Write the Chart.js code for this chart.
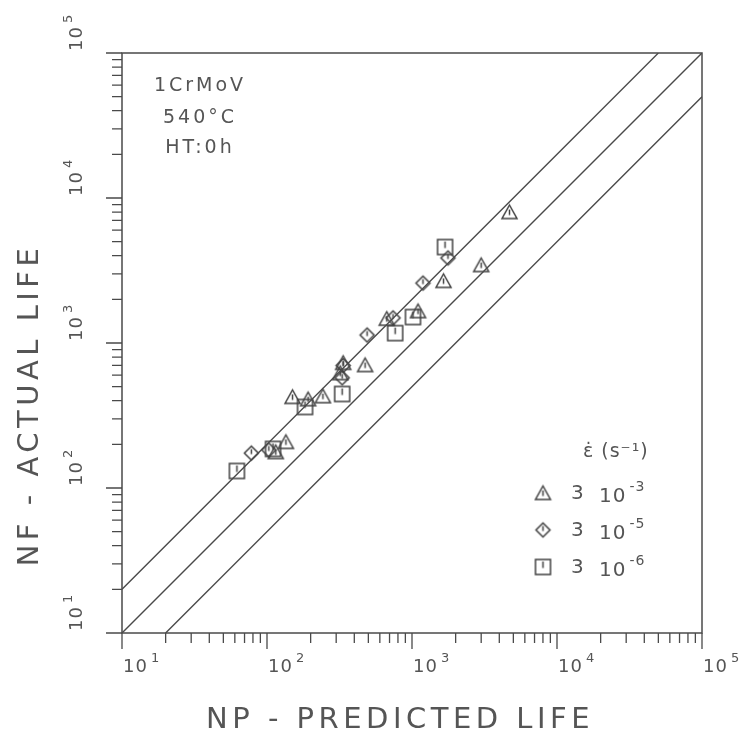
<!DOCTYPE html>
<html>
<head>
<meta charset="utf-8">
<script src="https://cdn.jsdelivr.net/npm/chart.js@4.4.0/dist/chart.umd.min.js"></script>
<style>
  html, body { margin: 0; padding: 0; background: #fff; }
  #wrap { width: 750px; height: 744px; }
</style>
</head>
<body>
<div id="wrap"><canvas id="lifeChart" width="750" height="744"></canvas></div>
<script>
// predicted life (NP) and actual life (NF), per strain rate
const rateLabels = ['3 10-3', '3 10-5', '3 10-6'];
const rateExps = ['-3', '-5', '-6'];

const np3 = [4700, 3000, 1650, 1100, 670, 475, 335, 320, 243, 192, 150, 135, 115];
const nf3 = [8000, 3450, 2680, 1660, 1470, 705, 730, 620, 430, 410, 425, 208, 177];

const np5 = [78, 103, 330, 335, 490, 740, 1190, 1770];
const nf5 = [174, 183, 575, 700, 1135, 1490, 2590, 3860];

const np6 = [62, 110, 183, 330, 765, 1015, 1690];
const nf6 = [131, 186, 362, 445, 1170, 1510, 4590];

// factor-of-two scatter band: [x, y] end points
const bandUpper = [[10, 20], [50000, 100000]];
const bandMid = [[10, 10], [100000, 100000]];
const bandLower = [[20, 10], [100000, 50000]];

const decades = [1, 2, 3, 4, 5];
const notes = ['1CrMoV', '540\u00b0C', 'HT:0h'];

const INK = '#4a4a4a';
const TEXT = '#555555';
const FONT = '"DejaVu Sans", sans-serif';

function makeSymbol(kind) {
    const c = document.createElement('canvas');
    c.width = 19; c.height = 19;
    const g = c.getContext('2d');
    g.strokeStyle = '#404040';
    g.lineWidth = 1.5;
    g.beginPath();
    if (kind === 'tri') {
        g.moveTo(9.5, 2.5); g.lineTo(17, 16); g.lineTo(2, 16); g.closePath();
        g.moveTo(9.5, 7); g.lineTo(9.5, 12.5);
    } else if (kind === 'dia') {
        g.moveTo(9.5, 2.5); g.lineTo(16.5, 9.5); g.lineTo(9.5, 16.5); g.lineTo(2.5, 9.5); g.closePath();
        g.moveTo(9.5, 5.5); g.lineTo(9.5, 10.5);
    } else {
        g.rect(2, 2, 15, 15);
        g.moveTo(9.5, 4); g.lineTo(9.5, 10.5);
    }
    g.stroke();
    return c;
}
const symbols = [makeSymbol('tri'), makeSymbol('dia'), makeSymbol('sq')];

const toPts = (xs, ys) => xs.map((x, i) => ({ x: x, y: ys[i] }));
const toLine = (arr) => arr.map(p => ({ x: p[0], y: p[1] }));

function drawPow(ctx, x, y, exp, size, supSize, rise) {
    ctx.font = size + 'px ' + FONT;
    ctx.textAlign = 'left';
    ctx.textBaseline = 'alphabetic';
    ctx.fillText('10', x, y);
    const w = ctx.measureText('10').width;
    ctx.font = supSize + 'px ' + FONT;
    ctx.fillText(exp, x + w + 3, y - rise);
}

const framePlugin = {
    id: 'frame',
    beforeDatasetsDraw(chart) {
        const { ctx, chartArea: a, scales: { x, y } } = chart;
        ctx.save();
        ctx.strokeStyle = INK;
        ctx.lineWidth = 1.5;
        ctx.strokeRect(a.left, a.top, a.right - a.left, a.bottom - a.top);
        ctx.lineWidth = 1.3;
        ctx.beginPath();
        for (let d = 1; d <= 5; d++) {
            for (let k = 1; k <= 9; k++) {
                if (d === 5 && k > 1) break;
                const v = k * Math.pow(10, d);
                const len = k === 1 ? 16 : 10;
                const px = x.getPixelForValue(v);
                ctx.moveTo(px, a.bottom); ctx.lineTo(px, a.bottom + len);
                const py = y.getPixelForValue(v);
                ctx.moveTo(a.left, py); ctx.lineTo(a.left - len, py);
            }
        }
        ctx.stroke();
        ctx.restore();
    },
    afterDraw(chart) {
        const { ctx, chartArea: a, scales: { x, y } } = chart;
        ctx.save();
        ctx.fillStyle = TEXT;
        ctx.letterSpacing = '1px';
        // tick labels
        decades.forEach(d => {
            const v = Math.pow(10, d);
            drawPow(ctx, x.getPixelForValue(v) + 1, a.bottom + 39, String(d), 18, 13, 10);
            ctx.save();
            ctx.translate(a.left - 40, y.getPixelForValue(v) - 2);
            ctx.rotate(-Math.PI / 2);
            drawPow(ctx, 0, 0, String(d), 18, 13, 10);
            ctx.restore();
        });
        // axis titles
        ctx.letterSpacing = '4.5px';
        ctx.font = '29px ' + FONT;
        ctx.textAlign = 'center';
        ctx.textBaseline = 'middle';
        ctx.fillText('NP - PREDICTED LIFE', 400, 720);
        ctx.save();
        ctx.translate(30, 405);
        ctx.rotate(-Math.PI / 2);
        ctx.fillText('NF - ACTUAL LIFE', 0, 0);
        ctx.restore();
        // material notes
        ctx.letterSpacing = '3px';
        ctx.font = '19px ' + FONT;
        notes.forEach((t, i) => ctx.fillText(t, 200, [86, 118, 148][i]));
        // legend
        ctx.letterSpacing = '1px';
        ctx.textAlign = 'left';
        ctx.font = '19px ' + FONT;
        ctx.fillText('\u03b5\u0307 (s\u207b\u00b9)', 583, 452);
        rateExps.forEach((e, i) => {
            const cy = [493, 530, 567][i];
            const s = symbols[i];
            ctx.drawImage(s, 543 - s.width / 2, cy - s.height / 2);
            ctx.textBaseline = 'middle';
            ctx.font = '20px ' + FONT;
            ctx.fillText('3', 571, cy + 1);
            drawPow(ctx, 599, cy + 9, e, 20, 14, 11);
        });
        ctx.restore();
    }
};

const lineStyle = { type: 'line', showLine: true, pointRadius: 0, borderColor: INK, borderWidth: 1.4, fill: false };

new Chart(document.getElementById('lifeChart'), {
    type: 'scatter',
    data: {
        datasets: [
            { ...lineStyle, label: 'NF = 2 NP', data: toLine(bandUpper) },
            { ...lineStyle, label: 'NF = NP', data: toLine(bandMid) },
            { ...lineStyle, label: 'NF = NP / 2', data: toLine(bandLower) },
            { label: rateLabels[0], data: toPts(np3, nf3), pointStyle: symbols[0] },
            { label: rateLabels[1], data: toPts(np5, nf5), pointStyle: symbols[1] },
            { label: rateLabels[2], data: toPts(np6, nf6), pointStyle: symbols[2] }
        ]
    },
    options: {
        responsive: false,
        animation: false,
        layout: { padding: { left: 122, right: 48, top: 53, bottom: 111 } },
        plugins: { legend: { display: false }, tooltip: { enabled: false } },
        scales: {
            x: { type: 'logarithmic', min: 10, max: 100000, display: false },
            y: { type: 'logarithmic', min: 10, max: 100000, display: false }
        }
    },
    plugins: [framePlugin]
});
</script>
</body>
</html>
